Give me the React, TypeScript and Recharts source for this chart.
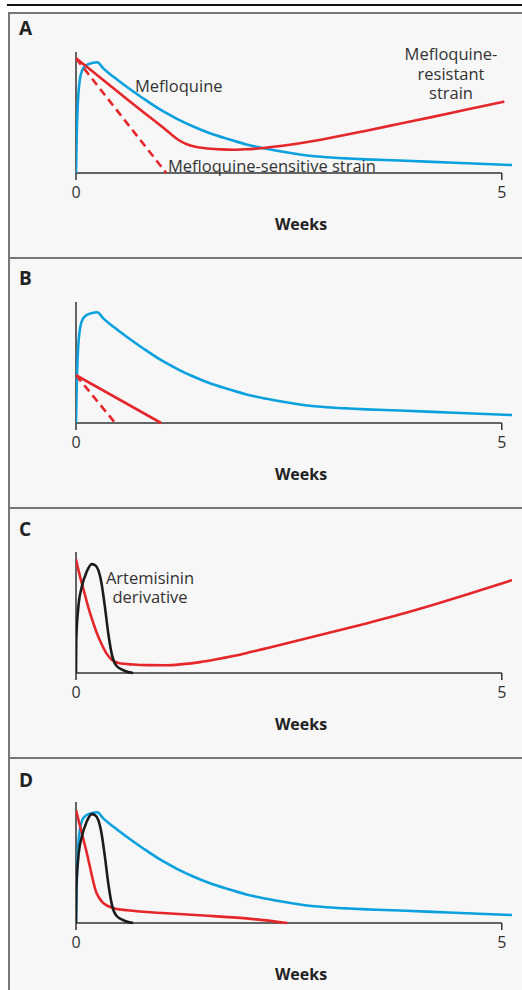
import React from "react";
import { LineChart, Line, XAxis, YAxis, ReferenceLine, Label } from "recharts";

// weeks on x, relative level (0-100) on y
const weekTicks = [0, 5];

const mefloquine: [number, number][] = [
  [0, 0], [0.008, 30], [0.02, 55], [0.047, 78], [0.08, 86], [0.125, 89.2],
  [0.2, 91.1], [0.25, 91.5], [0.32, 86.5], [0.44, 79.5], [0.595, 71.3],
  [0.79, 61.6], [0.986, 52.5], [1.18, 45], [1.377, 38.4], [1.573, 32.8],
  [1.77, 28.3], [2.0, 23.6], [2.24, 20], [2.45, 17.3], [2.63, 15.3],
  [2.8, 13.9], [3.0, 12.8], [3.2, 12.0], [3.41, 11.3], [3.8, 10.3],
  [4.19, 9.2], [4.59, 8], [5.12, 6.6],
];

const resistantA: [number, number][] = [
  [0, 94.8], [0.2, 83.6], [0.4, 72.3], [0.6, 61], [0.8, 49.8], [1.0, 38.8],
  [1.1, 33], [1.2, 27.5], [1.3, 23.8], [1.4, 21.7], [1.55, 20.3], [1.7, 19.5],
  [1.85, 19.2], [2.0, 19.6], [2.2, 20.7], [2.4, 22.3], [2.63, 24.6],
  [3.02, 29.5], [3.41, 35], [3.8, 40.7], [4.19, 46.4], [4.59, 52.5], [5.03, 59],
];
const sensitiveA: [number, number][] = [[0, 94.8], [1.06, 0]];

const resistantB: [number, number][] = [[0, 39.5], [1.0, 0]];
const sensitiveB: [number, number][] = [[0, 39.5], [0.46, 0]];

const artemisinin: [number, number][] = [
  [0, 0], [0.003, 27], [0.027, 54], [0.067, 71], [0.125, 83.6], [0.184, 90],
  [0.223, 89.2], [0.262, 85], [0.3, 74], [0.34, 54.4], [0.38, 32.2],
  [0.42, 15.6], [0.477, 5.8], [0.575, 1.7], [0.67, 0],
];

const resistantC: [number, number][] = [
  [0, 93.9], [0.05, 79], [0.1, 66], [0.15, 53], [0.2, 42], [0.25, 32],
  [0.3, 24], [0.36, 16], [0.42, 11], [0.5, 8.3], [0.67, 7], [0.85, 6.5],
  [1.06, 6.4], [1.25, 7.3], [1.455, 9.0], [1.65, 11.3], [1.846, 14.0],
  [2.05, 17.3], [2.24, 20.5], [2.63, 27.2], [3.02, 34.0], [3.41, 41.0],
  [3.8, 48.3], [4.19, 56.2], [4.59, 64.8], [5.12, 76.7],
];

const resistantD: [number, number][] = [
  [0, 93.4], [0.125, 58.5], [0.24, 25], [0.3, 18], [0.36, 14.5], [0.45, 12],
  [0.6, 10.5], [1.06, 8], [1.5, 6.2], [2.0, 3.8], [2.48, 0],
];

const BLUE = "#0ba0de";
const RED = "#e5262b";
const BLACK = "#1c1c1c";
const AXIS = "#333";
const FONT = "'Open Sans', sans-serif";

type Series = {
  name: string;
  points: [number, number][];
  color: string;
  dashed?: boolean;
  curve?: "monotone" | "linear";
};

const toPoints = (pairs: [number, number][]) =>
  pairs.map(([week, level]) => ({ week, level }));

function Course({ top, series }: { top: number; series: Series[] }) {
  return (
    <div style={{ position: "absolute", left: 0, top: top - 40 }}>
      <LineChart
        width={522}
        height={230}
        margin={{ top: 40, right: 10, bottom: 39, left: 76 }}
      >
        <XAxis
          type="number"
          dataKey="week"
          domain={[0, 5.12]}
          allowDataOverflow
          ticks={weekTicks}
          axisLine={false}
          tickLine={{ stroke: AXIS, strokeWidth: 1.5 }}
          tickSize={7}
          tickMargin={7}
          tick={{ fill: "#333", fontSize: 16, fontFamily: FONT }}
          height={30}
        >
          <Label
            value="Weeks"
            position="bottom"
            offset={16}
            dx={7}
            style={{ fontWeight: 700, fontSize: 16, fill: "#222", fontFamily: FONT }}
          />
        </XAxis>
        <YAxis type="number" domain={[0, 100]} hide />
        <ReferenceLine
          segment={[{ x: 0, y: 0 }, { x: 5, y: 0 }]}
          stroke={AXIS}
          strokeWidth={1.5}
        />
        <ReferenceLine
          segment={[{ x: 0, y: 0 }, { x: 0, y: 100 }]}
          stroke={AXIS}
          strokeWidth={1.5}
        />
        {series.map((s) => (
          <Line
            key={s.name}
            name={s.name}
            data={toPoints(s.points)}
            dataKey="level"
            type={s.curve ?? "monotone"}
            stroke={s.color}
            strokeWidth={2.6}
            strokeDasharray={s.dashed ? "8 5" : undefined}
            dot={false}
            activeDot={false}
            isAnimationActive={false}
          />
        ))}
      </LineChart>
    </div>
  );
}

const panelTops = [12, 257, 507, 757];
const panelLetters = ["A", "B", "C", "D"];
const letterCenters = [28, 278, 529, 780];

const textStyle: React.CSSProperties = {
  position: "absolute",
  fontFamily: FONT,
  fontSize: 16.5,
  color: "#333",
  whiteSpace: "nowrap",
  lineHeight: "19.5px",
};

export default function App() {
  return (
    <div
      style={{
        position: "absolute",
        left: 0,
        top: 0,
        width: 522,
        height: 990,
        overflow: "hidden",
        background: "#fff",
      }}
    >
      <div
        style={{
          position: "absolute",
          left: 7,
          top: 4,
          width: 515,
          height: 2,
          background: "#111",
        }}
      />
      {panelTops.map((t, i) => (
        <div
          key={t}
          style={{
            position: "absolute",
            left: 8,
            top: t,
            width: 540,
            height: (panelTops[i + 1] ?? 1000) - t,
            boxSizing: "border-box",
            borderTop: "2px solid #777",
            borderLeft: "2px solid #777",
            background: "#f7f7f7",
          }}
        />
      ))}
      {panelLetters.map((l, i) => (
        <div
          key={l}
          style={{
            position: "absolute",
            left: 19,
            top: letterCenters[i] - 11,
            lineHeight: "22px",
            fontFamily: FONT,
            fontWeight: 700,
            fontSize: 19,
            color: "#222",
          }}
        >
          {l}
        </div>
      ))}

      <Course
        top={52}
        series={[
          { name: "Mefloquine", points: mefloquine, color: BLUE },
          { name: "Mefloquine-resistant strain", points: resistantA, color: RED },
          { name: "Mefloquine-sensitive strain", points: sensitiveA, color: RED, dashed: true, curve: "linear" },
        ]}
      />
      <Course
        top={302}
        series={[
          { name: "Mefloquine", points: mefloquine, color: BLUE },
          { name: "Resistant", points: resistantB, color: RED, curve: "linear" },
          { name: "Sensitive", points: sensitiveB, color: RED, dashed: true, curve: "linear" },
        ]}
      />
      <Course
        top={552}
        series={[
          { name: "Resistant", points: resistantC, color: RED },
          { name: "Artemisinin derivative", points: artemisinin, color: BLACK },
        ]}
      />
      <Course
        top={802}
        series={[
          { name: "Mefloquine", points: mefloquine, color: BLUE },
          { name: "Resistant", points: resistantD, color: RED },
          { name: "Artemisinin derivative", points: artemisinin, color: BLACK },
        ]}
      />

      <div style={{ ...textStyle, left: 135, top: 86 - 9.75 }}>Mefloquine</div>
      <div style={{ ...textStyle, left: 168, top: 165.5 - 9.75 }}>
        Mefloquine-sensitive strain
      </div>
      <div
        style={{
          ...textStyle,
          left: 401,
          width: 100,
          top: 54 - 9.75,
          textAlign: "center",
        }}
      >
        Mefloquine-
        <br />
        resistant
        <br />
        strain
      </div>
      <div
        style={{
          ...textStyle,
          left: 100,
          width: 100,
          top: 577.5 - 9.5,
          lineHeight: "19px",
          textAlign: "center",
        }}
      >
        Artemisinin
        <br />
        derivative
      </div>
    </div>
  );
}
